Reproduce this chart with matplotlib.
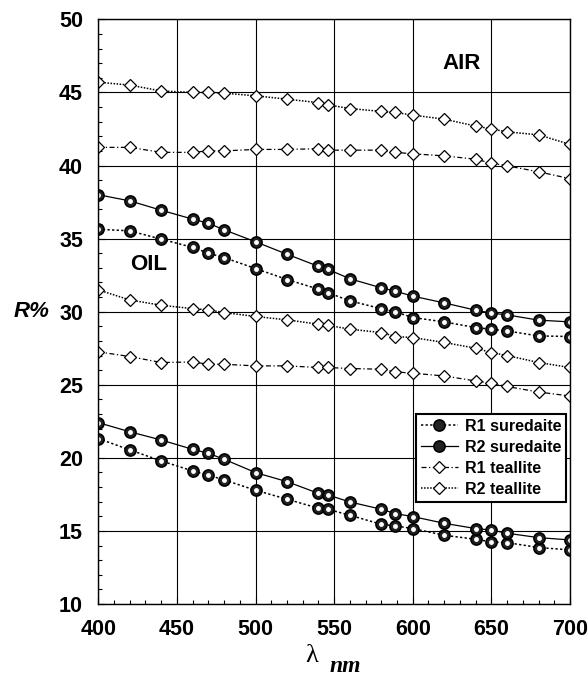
import matplotlib
matplotlib.use("Agg")
import matplotlib.pyplot as plt
from matplotlib.ticker import MultipleLocator

plt.rcParams['font.family'] = ['Liberation Sans', 'DejaVu Sans']

# wavelengths (nm)
wl = [400, 420, 440, 460, 470, 480, 500, 520, 540, 546,
      560, 580, 589, 600, 620, 640, 650, 660, 680, 700]

# teallite in air
r2_teal_air = [45.7, 45.5, 45.1, 45.0, 45.0, 44.95, 44.77, 44.54, 44.3, 44.15,
               43.9, 43.7, 43.63, 43.45, 43.17, 42.7, 42.5, 42.3, 42.1, 41.44]
r1_teal_air = [41.24, 41.24, 40.9, 40.9, 41.0, 41.0, 41.1, 41.1, 41.15, 41.05,
               41.05, 41.05, 40.9, 40.8, 40.66, 40.43, 40.16, 39.98, 39.57, 39.1]
# suredaite in air
r2_sure_air = [38.0, 37.58, 36.94, 36.33, 36.05, 35.6, 34.78, 33.93, 33.1, 32.9,
               32.25, 31.63, 31.4, 31.06, 30.6, 30.1, 29.9, 29.78, 29.42, 29.3]
r1_sure_air = [35.64, 35.53, 34.96, 34.4, 34.0, 33.7, 32.95, 32.2, 31.54, 31.3,
               30.74, 30.2, 29.98, 29.6, 29.3, 28.91, 28.8, 28.68, 28.34, 28.3]
# teallite in oil
r2_teal_oil = [31.49, 30.8, 30.44, 30.21, 30.12, 29.94, 29.67, 29.44, 29.14, 29.07,
               28.8, 28.57, 28.3, 28.23, 27.89, 27.5, 27.2, 27.0, 26.52, 26.18]
r1_teal_oil = [27.25, 26.93, 26.52, 26.56, 26.4, 26.4, 26.29, 26.29, 26.18, 26.18,
               26.11, 26.06, 25.88, 25.79, 25.6, 25.26, 25.1, 24.88, 24.5, 24.23]
# suredaite in oil
r2_sure_oil = [22.41, 21.78, 21.22, 20.58, 20.31, 19.9, 18.99, 18.37, 17.57, 17.46,
               16.98, 16.48, 16.18, 15.98, 15.52, 15.16, 15.06, 14.84, 14.54, 14.38]
r1_sure_oil = [21.32, 20.54, 19.79, 19.1, 18.81, 18.49, 17.78, 17.17, 16.55, 16.48,
               16.07, 15.45, 15.34, 15.16, 14.7, 14.43, 14.24, 14.2, 13.86, 13.7]

fig = plt.figure(figsize=(5.88, 6.79), dpi=100)
ax = fig.add_axes([0.1672, 0.1105, 0.8022, 0.861])

sure_mk = dict(marker='o', markersize=8, markerfacecolor='#222222',
               markeredgecolor='black', markeredgewidth=1.2, color='black')
teal_mk = dict(marker='D', markersize=6.5, markerfacecolor='white',
               markeredgecolor='black', markeredgewidth=0.9, color='black')

# suredaite
ax.plot(wl, r1_sure_air, linestyle=(0, (1.5, 1.5)), lw=1.1, label='R1 suredaite', **sure_mk)
ax.plot(wl, r2_sure_air, linestyle='-', lw=0.9, label='R2 suredaite', **sure_mk)
ax.plot(wl, r1_sure_oil, linestyle=(0, (1.5, 1.5)), lw=1.1, **sure_mk)
ax.plot(wl, r2_sure_oil, linestyle='-', lw=0.9, **sure_mk)
# small highlight on the dark circles
for ys in (r1_sure_air, r2_sure_air, r1_sure_oil, r2_sure_oil):
    ax.plot(wl, ys, linestyle='none', marker='o', markersize=2.5,
            markerfacecolor='white', markeredgecolor='white')

# teallite
ax.plot(wl, r1_teal_air, linestyle=(0, (4, 2, 1, 2)), lw=0.9, label='R1 teallite', **teal_mk)
ax.plot(wl, r2_teal_air, linestyle=(0, (1, 1)), lw=1.1, label='R2 teallite', **teal_mk)
ax.plot(wl, r1_teal_oil, linestyle=(0, (4, 2, 1, 2)), lw=0.9, **teal_mk)
ax.plot(wl, r2_teal_oil, linestyle=(0, (1, 1)), lw=1.1, **teal_mk)

ax.set_xlim(400, 700)
ax.set_ylim(10, 50)
ax.xaxis.set_major_locator(MultipleLocator(50))
ax.xaxis.set_minor_locator(MultipleLocator(10))
ax.yaxis.set_major_locator(MultipleLocator(5))
ax.yaxis.set_minor_locator(MultipleLocator(1))
ax.grid(True, which='major', color='black', lw=0.8)
ax.tick_params(which='both', direction='in', labelsize=15.5, width=0.8)
ax.tick_params(which='major', length=5, pad=11)
ax.tick_params(which='minor', length=3)
for lab in ax.get_xticklabels() + ax.get_yticklabels():
    lab.set_fontweight('bold')
for s in ax.spines.values():
    s.set_linewidth(1.0)

ax.text(631, 47.0, 'AIR', fontsize=16, fontweight='bold', ha='center', va='center')
ax.text(432, 33.25, 'OIL', fontsize=16, fontweight='bold', ha='center', va='center')

leg = ax.legend(loc='upper right', bbox_to_anchor=(0.9915, 0.325), fancybox=False,
                framealpha=1, edgecolor='black', borderpad=0.3, labelspacing=0.38,
                handlelength=2.3, handletextpad=0.45, borderaxespad=0,
                prop={'weight': 'bold', 'size': 11.5})
leg.get_frame().set_linewidth(1.5)

fig.text(0.053, 0.541, 'R%', fontsize=16, fontweight='bold', fontstyle='italic',
         ha='center', va='center')
fig.text(0.530, 0.034, 'λ', fontsize=19, family='Liberation Serif', ha='center', va='center')
fig.text(0.587, 0.019, 'nm', fontsize=17, family='Liberation Serif', fontweight='bold',
         fontstyle='italic', ha='center', va='center')

fig.savefig('out.png', dpi=100)
